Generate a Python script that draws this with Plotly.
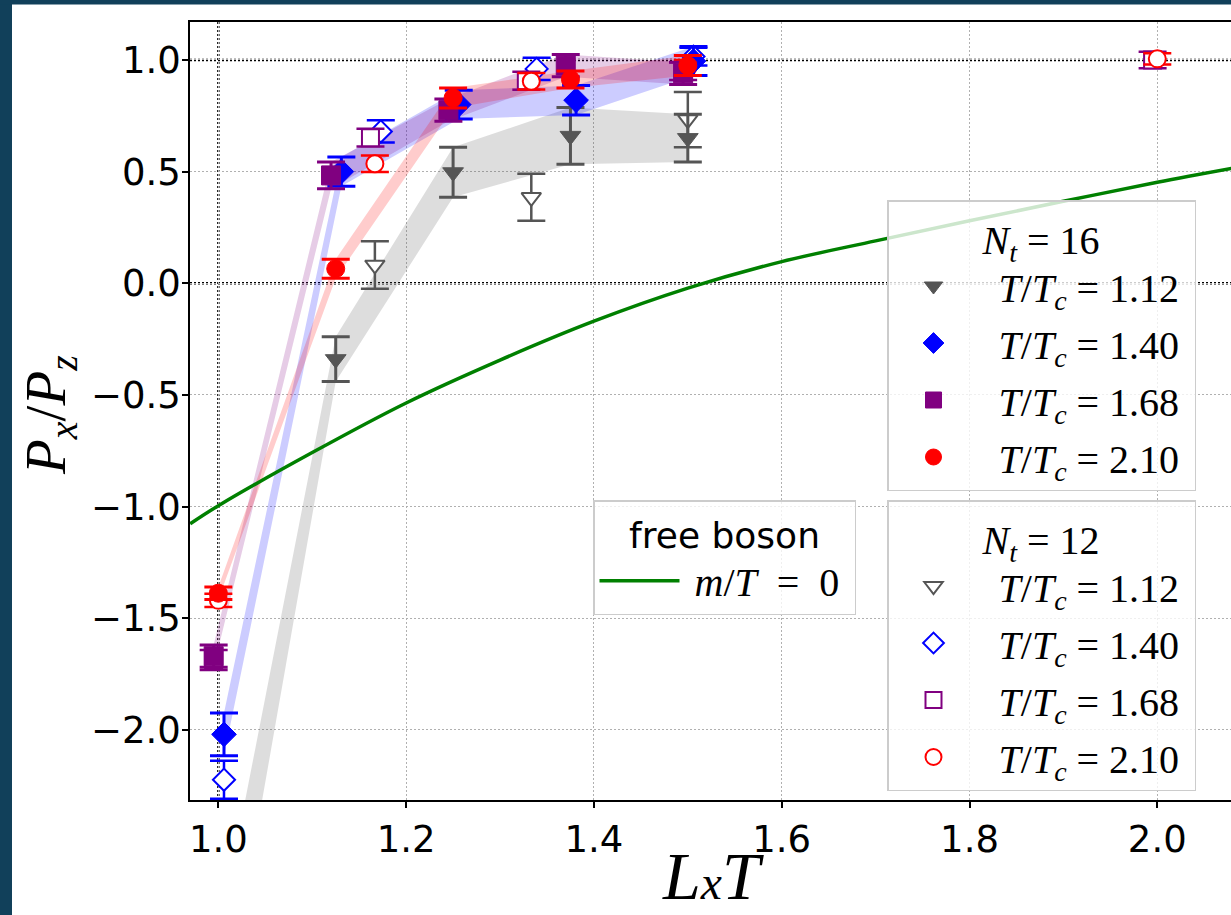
import plotly.graph_objects as go

# ---------------- data ----------------
temp_labels = ["1.12", "1.40", "1.68", "2.10"]
colors = ["#555555", "#0000ff", "#800080", "#ff0000"]
symbols = ["triangle-down", "diamond", "square", "circle"]

# N_t = 16 (filled markers, with error bands)
x16_gray = [1.000, 1.125, 1.250, 1.375, 1.500]
y16_gray = [-3.18, -0.34, 0.497, 0.660, 0.650]
e16_gray = [0.25, 0.100, 0.112, 0.127, 0.107]

x16_blue = [1.006, 1.131, 1.256, 1.381, 1.506]
y16_blue = [-2.020, 0.500, 0.800, 0.820, 0.995]
e16_blue = [0.096, 0.065, 0.064, 0.066, 0.065]

x16_purple = [0.995, 1.120, 1.245, 1.370, 1.495]
y16_purple = [-1.670, 0.483, 0.775, 0.975, 0.940]
e16_purple = [0.050, 0.060, 0.050, 0.050, 0.050]

x16_red = [1.000, 1.125, 1.250, 1.375, 1.500]
y16_red = [-1.388, 0.065, 0.830, 0.913, 0.975]
e16_red = [0.028, 0.043, 0.045, 0.038, 0.045]

# N_t = 12 (open markers)
x12_gray = [1.1667, 1.3333, 1.500]
y12_gray = [0.082, 0.385, 0.733]
e12_gray = [0.106, 0.105, 0.124]

x12_blue = [1.006, 1.173, 1.339, 1.506]
y12_blue = [-2.223, 0.680, 0.960, 1.015]
e12_blue = [0.085, 0.050, 0.050, 0.040]

x12_purple = [0.995, 1.162, 1.328, 1.495, 1.995]
y12_purple = [-1.687, 0.652, 0.907, 0.950, 1.000]
e12_purple = [0.045, 0.040, 0.040, 0.040, 0.037]

x12_red = [1.000, 1.1667, 1.3333, 1.500, 2.000]
y12_red = [-1.420, 0.535, 0.905, 0.965, 1.005]
e12_red = [0.030, 0.037, 0.037, 0.035, 0.025]

# free massless boson curve
x_free = [0.97, 1.0, 1.1, 1.2, 1.3, 1.4, 1.5, 1.6, 1.7, 1.8, 1.9, 2.0, 2.08]
y_free = [-1.077, -0.996, -0.758, -0.536, -0.344, -0.170, -0.022, 0.097,
          0.190, 0.280, 0.367, 0.452, 0.515]

# reference lines
h_ref = [0.0, 1.0]
v_ref = [1.0]

x_ticks = [1.0, 1.2, 1.4, 1.6, 1.8, 2.0]
y_ticks = [-2.0, -1.5, -1.0, -0.5, 0.0, 0.5, 1.0]

set16 = [(x16_gray, y16_gray, e16_gray), (x16_blue, y16_blue, e16_blue),
         (x16_purple, y16_purple, e16_purple), (x16_red, y16_red, e16_red)]
set12 = [(x12_gray, y12_gray, e12_gray), (x12_blue, y12_blue, e12_blue),
         (x12_purple, y12_purple, e12_purple), (x12_red, y12_red, e12_red)]

# ---------------- layout geometry ----------------
W, H = 1231, 915
ML, MR, MT, MB = 190, 0, 22, 115
PW, PH = W - ML - MR, H - MT - MB


def px2paper_x(px):
    return (px - ML) / PW


def px2paper_y(py):
    return (H - MB - py) / PH


def rgba(hexc, a):
    h = hexc.lstrip("#")
    r, g, b = int(h[0:2], 16), int(h[2:4], 16), int(h[4:6], 16)
    return f"rgba({r},{g},{b},{a})"


SERIF = "Liberation Serif"
SANS = "DejaVu Sans"
NB = "\u00a0"
DARK = "#11405a"

fig = go.Figure()

# error bands for N_t=16
for (xs, ys, es), c in zip(set16, colors):
    up = [y + e for y, e in zip(ys, es)]
    lo = [y - e for y, e in zip(ys, es)]
    fig.add_trace(go.Scatter(
        x=xs + xs[::-1], y=up + lo[::-1], mode="lines", fill="toself",
        fillcolor=rgba(c, 0.2), line=dict(width=0), showlegend=False,
        hoverinfo="skip"))

# free boson
fig.add_trace(go.Scatter(
    x=x_free, y=y_free, mode="lines", line=dict(color="#008000", width=3.5, shape="spline"),
    name=NB + "<i>m</i>/<i>T</i>" + NB + NB + "=" + NB + NB + "0" + NB,
    legend="legend3", legendgroup="fb"))

# N_t = 12 open markers
for i, ((xs, ys, es), c, s, t) in enumerate(zip(set12, colors, symbols, temp_labels)):
    fig.add_trace(go.Scatter(
        x=xs, y=ys, mode="markers",
        marker=dict(symbol=s, size=17, color="white", line=dict(color=c, width=2)),
        error_y=dict(type="data", array=es, color=c, thickness=2.5, width=14),
        name=NB + NB + f"<i>T</i>/<i>T</i><sub><i>c</i></sub> = {t}" + NB,
        legend="legend2", legendgroup=f"n12_{i}"))

# N_t = 16 filled markers
for i, ((xs, ys, es), c, s, t) in enumerate(zip(set16, colors, symbols, temp_labels)):
    size = {"triangle-down": 18, "diamond": 19, "square": 19, "circle": 18}[s]
    fig.add_trace(go.Scatter(
        x=xs, y=ys, mode="markers",
        marker=dict(symbol=s, size=size, color=c, line=dict(color=c, width=1)),
        error_y=dict(type="data", array=es, color=c, thickness=3, width=14),
        name=NB + NB + f"<i>T</i>/<i>T</i><sub><i>c</i></sub> = {t}" + NB,
        legend="legend", legendgroup=f"n16_{i}"))

shapes = []
# dark strips of the frame
shapes.append(dict(type="rect", xref="paper", yref="paper", layer="below",
                   x0=px2paper_x(-5), x1=px2paper_x(12), y0=px2paper_y(H + 5), y1=px2paper_y(-5),
                   fillcolor=DARK, line=dict(width=0)))
shapes.append(dict(type="rect", xref="paper", yref="paper", layer="below",
                   x0=px2paper_x(-5), x1=px2paper_x(W + 5), y0=px2paper_y(4.5), y1=px2paper_y(-5),
                   fillcolor=DARK, line=dict(width=0)))
for hv in h_ref:
    shapes.append(dict(type="line", xref="paper", yref="y", x0=0, x1=1, y0=hv, y1=hv,
                       layer="between", line=dict(color="black", width=2.4, dash="2px,2px")))
for vv in v_ref:
    shapes.append(dict(type="line", xref="x", yref="paper", x0=vv, x1=vv, y0=0, y1=1,
                       layer="between", line=dict(color="black", width=2.4, dash="2px,2px")))

axis_common = dict(
    showgrid=True, gridcolor="#b0b0b0", gridwidth=1, griddash="2px,2px",
    zeroline=False, showline=True, linecolor="black", linewidth=1.5,
    ticks="outside", ticklen=6, tickwidth=1.5, tickcolor="black",
    tickfont=dict(family=SANS, size=37, color="black"), tickformat=".1f",
)

leg_common = dict(
    xanchor="left", yanchor="top", bgcolor="rgba(255,255,255,0.8)",
    bordercolor="#cccccc", borderwidth=1.5,
    font=dict(family=SERIF, size=40, color="black"),
    itemwidth=80, traceorder="grouped", tracegroupgap=2,
)

fig.update_layout(
    width=W, height=H, autosize=False,
    margin=dict(l=ML, r=MR, t=MT, b=MB, pad=0),
    paper_bgcolor="white", plot_bgcolor="white",
    xaxis=dict(range=[0.9698, 2.0785], tickvals=x_ticks, mirror=True, **axis_common),
    yaxis=dict(range=[-2.314, 1.170], tickvals=y_ticks, mirror=False,
               ticklabelstandoff=-6, **axis_common),
    shapes=shapes,
    legend=dict(x=px2paper_x(887), y=px2paper_y(200),
                title=dict(text="<i>N</i><sub><i>t</i></sub> = 16", side="top center",
                           font=dict(family=SERIF, size=40, color="black")),
                **leg_common),
    legend2=dict(x=px2paper_x(887), y=px2paper_y(500),
                 title=dict(text="<i>N</i><sub><i>t</i></sub> = 12", side="top center",
                            font=dict(family=SERIF, size=40, color="black")),
                 **leg_common),
    legend3=dict(x=px2paper_x(593), y=px2paper_y(500),
                 title=dict(text="free boson", side="top center",
                            font=dict(family=SANS, size=36, color="black")),
                 **leg_common),
    annotations=[
        dict(text="<i>L</i><span style='font-size:70%'><i>x</i></span><i>T</i>",
             xref="paper", yref="paper",
             x=px2paper_x(713), y=px2paper_y(876), xanchor="center", yanchor="middle",
             showarrow=False, font=dict(family=SERIF, size=68, color="black")),
        dict(text="<i>P</i><sub><i>x</i></sub>/<i>P</i><sub><i>z</i></sub>", xref="paper", yref="paper",
             x=px2paper_x(50), y=px2paper_y(415), xanchor="center", yanchor="middle",
             textangle=-90, showarrow=False, font=dict(family=SERIF, size=57, color="black")),
    ],
)

fig.write_html(
    "out.html",
    config={"displayModeBar": False},
    post_script="document.body.style.margin='0px';document.body.style.background='%s';" % DARK,
)
